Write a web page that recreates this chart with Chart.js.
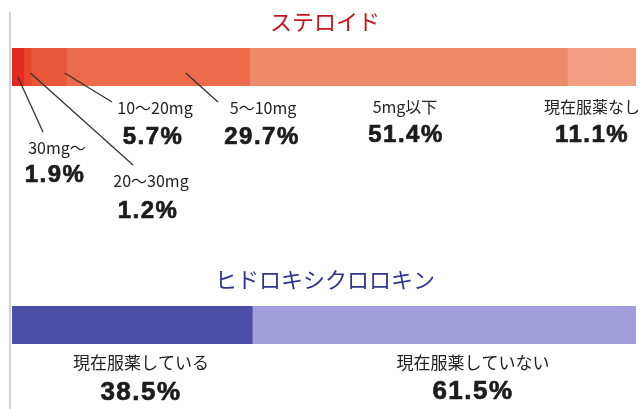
<!DOCTYPE html>
<html>
<head>
<meta charset="utf-8">
<script src="https://cdn.jsdelivr.net/npm/chart.js@4"></script>
<style>
  html, body { margin: 0; padding: 0; background: #fff; }
  #wrap { position: relative; width: 642px; height: 409px; }
  #wrap canvas { position: absolute; left: 0; top: 0; }
</style>
</head>
<body>
<div id="wrap">
  <canvas id="steroid" width="642" height="409"></canvas>
  <canvas id="hcq" width="642" height="409"></canvas>
</div>
<script>
// data
const steroidLabels = ["30mg〜", "20〜30mg", "10〜20mg", "5〜10mg", "5mg以下", "現在服薬なし"]
const steroidValues = [1.9, 1.2, 5.7, 29.7, 51.4, 11.1]
const steroidColors = ["#e42a1f", "#e8452d", "#e9583a", "#eb6b4a", "#ee8b6b", "#f49f82"]

const hcqLabels = ["現在服薬している", "現在服薬していない"]
const hcqValues = [38.5, 61.5]
const hcqColors = ["#4b4ea7", "#a29edb"]

const JP = "'Noto Sans CJK JP', 'Noto Sans', sans-serif"
const NUM = "'Liberation Sans', Arial, sans-serif"

// where the labels sit (text layout), and where leader lines start inside a segment
const steroidText = [
  { x: 57, y: 148, px: 55, py: 175, line: { f: 0.5, y0: 77, x1: 43, y1: 132 } },
  { x: 151, y: 181, px: 148, py: 211, line: { f: 0.9, y0: 73, x1: 133, y1: 165 } },
  { x: 155, y: 108, px: 153, py: 137, line: { f: 0.95, y0: 73, x1: 112, y1: 102 } },
  { x: 263, y: 108, px: 262, py: 137, line: { f: 0.65, y0: 73, x1: 218, y1: 102 } },
  { x: 405, y: 107, px: 406, py: 135 },
  { x: 592, y: 107, px: 592, py: 135 },
]
const hcqText = [
  { x: 141, y: 363, px: 141, py: 393 },
  { x: 473, y: 363, px: 473, py: 392 },
]

function makeDatasets(values, labels, colors) {
  return values.map((v, i) => ({
    label: labels[i],
    data: [v],
    backgroundColor: colors[i],
    borderWidth: 0,
    barPercentage: 1,
    categoryPercentage: 1,
  }))
}

function textPlugin(title, titleColor, titleY, layout, pctSize, labelSize, drawAxisLine) {
  return {
    id: "labels",
    afterDraw(chart) {
      const ctx = chart.ctx
      const xs = chart.scales.x
      const vals = chart.data.datasets.map(d => d.data[0])
      ctx.save()
      if (drawAxisLine) {
        ctx.strokeStyle = "#c4c4c4"
        ctx.lineWidth = 1.5
        ctx.beginPath()
        ctx.moveTo(10, 12)
        ctx.lineTo(10, 409)
        ctx.stroke()
      }
      ctx.fillStyle = titleColor
      ctx.font = "22px " + JP
      ctx.textAlign = "center"
      ctx.textBaseline = "middle"
      ctx.fillText(title, 325, titleY)

      let cum = 0
      layout.forEach((t, i) => {
        const start = cum
        cum += vals[i]
        if (t.line) {
          const x0 = xs.getPixelForValue(start + vals[i] * t.line.f)
          ctx.strokeStyle = "#333"
          ctx.lineWidth = 1.3
          ctx.beginPath()
          ctx.moveTo(x0, t.line.y0)
          ctx.lineTo(t.line.x1, t.line.y1)
          ctx.stroke()
        }
        ctx.fillStyle = "#222"
        ctx.font = labelSize + "px " + JP
        ctx.letterSpacing = "0px"
        ctx.fillText(chart.data.datasets[i].label, t.x, t.y)
        ctx.fillStyle = "#1c1c1c"
        ctx.strokeStyle = "#1c1c1c"
        ctx.lineWidth = 0.7
        ctx.font = "bold " + pctSize + "px " + NUM
        ctx.letterSpacing = "1.5px"
        const pct = vals[i].toFixed(1) + "%"
        ctx.fillText(pct, t.px, t.py)
        ctx.strokeText(pct, t.px, t.py)
      })
      ctx.restore()
    }
  }
}

function barOptions(top, bottom, total) {
  return {
    indexAxis: "y",
    responsive: false,
    animation: false,
    events: [],
    layout: { padding: { left: 12, right: 6, top: top, bottom: 409 - bottom } },
    plugins: { legend: { display: false }, tooltip: { enabled: false } },
    scales: {
      x: { stacked: true, min: 0, max: total, display: false },
      y: { stacked: true, display: false },
    },
  }
}

const steroidTotal = steroidValues.reduce((a, b) => a + b, 0)
const hcqTotal = hcqValues.reduce((a, b) => a + b, 0)

new Chart(document.getElementById("steroid"), {
  type: "bar",
  data: { labels: ["ステロイド"], datasets: makeDatasets(steroidValues, steroidLabels, steroidColors) },
  options: barOptions(48, 86, steroidTotal),
  plugins: [textPlugin("ステロイド", "#c8141c", 22, steroidText, 24, 16, true)],
})

new Chart(document.getElementById("hcq"), {
  type: "bar",
  data: { labels: ["ヒドロキシクロロキン"], datasets: makeDatasets(hcqValues, hcqLabels, hcqColors) },
  options: barOptions(306, 344, hcqTotal),
  plugins: [textPlugin("ヒドロキシクロロキン", "#2f3593", 280, hcqText, 26, 17, false)],
})
</script>
</body>
</html>
